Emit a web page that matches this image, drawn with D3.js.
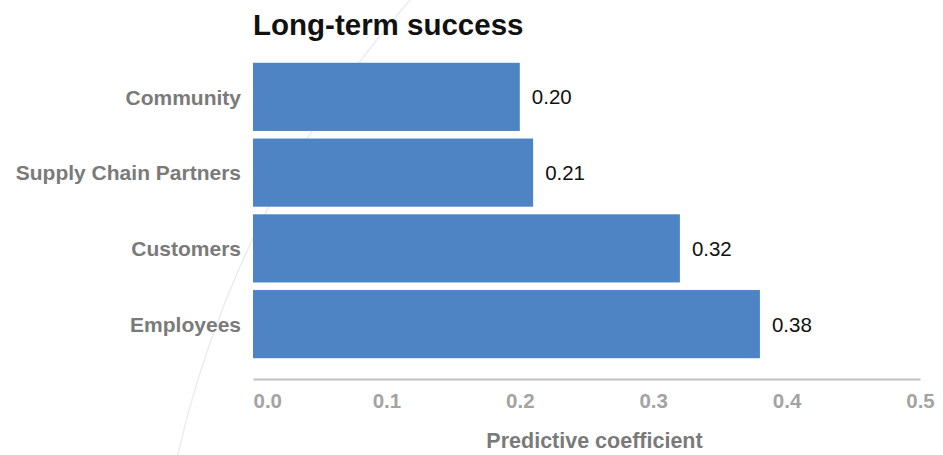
<!DOCTYPE html>
<html>
<head>
<meta charset="utf-8">
<script src="https://cdn.jsdelivr.net/npm/d3@7"></script>
<style>
  html, body { margin: 0; padding: 0; background: #fff; }
  svg { display: block; font-family: "Liberation Sans", Arial, Helvetica, sans-serif; }
</style>
</head>
<body>
<svg id="chart" width="943" height="455"></svg>
<script>
// Stakeholder groups and their predictive coefficients for long-term success
const categories = ["Community", "Supply Chain Partners", "Customers", "Employees"];
const values = [0.20, 0.21, 0.32, 0.38];
const tickValues = [0.0, 0.1, 0.2, 0.3, 0.4, 0.5];
const titleText = "Long-term success";
const xAxisTitle = "Predictive coefficient";

const svg = d3.select("#chart");
const W = 943, H = 455;
const margin = { left: 253, right: 23, top: 59, bottom: 93 };
const FONT = "Liberation Sans, Arial, sans-serif";

// faint decorative ring in the background
svg.append("circle")
  .attr("cx", 1190).attr("cy", 685).attr("r", 1038)
  .attr("fill", "none")
  .attr("stroke", "#ececec")
  .attr("stroke-width", 1.5);

const x = d3.scaleLinear().domain([0, 0.5]).range([margin.left, W - margin.right]);
const y = d3.scaleBand().domain(categories)
  .range([margin.top, H - margin.bottom])
  .paddingInner(0.1).paddingOuter(0.05);

// title
svg.append("text")
  .attr("x", margin.left).attr("y", 35)
  .attr("font-size", 29.5).attr("font-weight", "bold").attr("fill", "#111")
  .text(titleText);

// bars
svg.append("g").selectAll("rect")
  .data(categories.map((c, i) => ({ c, v: values[i] })))
  .join("rect")
  .attr("x", x(0))
  .attr("y", d => y(d.c))
  .attr("width", d => x(d.v) - x(0))
  .attr("height", y.bandwidth())
  .attr("fill", "#4e84c4");

// value labels
svg.append("g").selectAll("text")
  .data(categories.map((c, i) => ({ c, v: values[i] })))
  .join("text")
  .attr("x", d => x(d.v) + 12)
  .attr("y", d => y(d.c) + y.bandwidth() / 2)
  .attr("dy", "0.37em")
  .attr("font-size", 20.5).attr("fill", "#111")
  .text(d => d3.format(".2f")(d.v));

// category axis labels
const yAxis = d3.axisLeft(y).tickSize(0).tickPadding(12);
const gy = svg.append("g").attr("transform", `translate(${margin.left},0)`).call(yAxis);
gy.select(".domain").remove();
gy.selectAll("text")
  .attr("font-size", 21).attr("font-weight", "bold").attr("fill", "#7a7a7a")
  .attr("font-family", FONT)
  .attr("dy", "0.37em");

// value axis
const axisY = 379;
const xAxis = d3.axisBottom(x).tickValues(tickValues).tickFormat(d3.format(".1f")).tickSize(0).tickPadding(14);
const gx = svg.append("g").attr("transform", `translate(0,${axisY})`).call(xAxis);
gx.select(".domain").attr("stroke", "#c0c0c0").attr("stroke-width", 2);
gx.selectAll("text")
  .attr("font-size", 20.5).attr("font-weight", "bold").attr("fill", "#a3a3a3")
  .attr("font-family", FONT)
  .attr("text-anchor", d => d === 0 ? "start" : "middle");

// value axis title
svg.append("text")
  .attr("x", (x(0) + x(0.5)) / 2 + 8).attr("y", 448)
  .attr("text-anchor", "middle")
  .attr("font-size", 21.5).attr("font-weight", "bold").attr("fill", "#7a7a7a")
  .text(xAxisTitle);
</script>
</body>
</html>
